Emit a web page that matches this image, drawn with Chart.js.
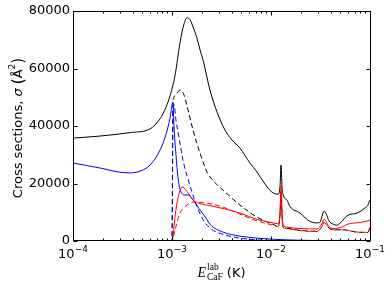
<!DOCTYPE html>
<html><head><meta charset="utf-8">
<script src="https://cdn.jsdelivr.net/npm/chart.js@4"></script>
<style>html,body{margin:0;padding:0;background:#fff}#wrap{width:391px;height:285px;position:relative}</style>
</head><body><div id="wrap"><canvas id="c" width="391" height="285"></canvas></div>
<script>
// ---- data (energies in K, cross sections in Å^2) ----
const blackSolidE = [1.0e-4,1.87e-4,3.77e-4,6.0e-4,7.57e-4,8.69e-4,9.55e-4,1.072e-3,1.205e-3,1.322e-3,1.418e-3,1.52e-3,1.63e-3,1.789e-3,1.918e-3,2.056e-3,2.42e-3,2.848e-3,3.43e-3,4.04e-3,4.86e-3,6.14e-3,7.22e-3,8.7e-3,1.023e-2,1.177e-2,1.233e-2,1.262e-2,1.292e-2,1.322e-2,1.452e-2,1.556e-2,1.963e-2,2.48e-2,2.92e-2,3.13e-2,3.27e-2,3.43e-2,3.6e-2,3.85e-2,4.23e-2,4.6e-2,4.98e-2,6.0e-2,7.39e-2,8.9e-2,9.55e-2,9.77e-2,0.1];
const blackSolidSigma = [35800,36500,37700,39000,42500,46500,50500,57500,69000,75500,77600,77000,74500,70500,66500,63000,52500,44900,38600,35100,32300,27100,24000,19800,17000,16300,19000,26400,19000,16200,14200,12000,9700,6800,6300,6600,8500,10400,9500,7000,5900,5500,6200,9000,9700,11500,12500,13500,14300];

const blackDashE = [1.0e-4,9.9e-4,1.0e-3,1.023e-3,1.072e-3,1.205e-3,1.322e-3,1.418e-3,1.52e-3,1.63e-3,1.918e-3,2.257e-3,2.716e-3,3.276e-3,4.86e-3,7.22e-3,1.047e-2,1.177e-2,1.233e-2,1.262e-2,1.292e-2,1.322e-2,1.452e-2,1.963e-2,2.92e-2,3.27e-2,3.43e-2,3.6e-2,3.85e-2,4.23e-2,5.33e-2,7.39e-2,9.55e-2,0.1];
const blackDashSigma = [0,0,0,48000,50500,52500,50800,47000,42800,38600,30600,24000,20300,17700,12500,8300,5800,5100,9000,17000,9000,4900,4400,3700,3400,5000,6500,5800,4500,3900,3900,3100,3000,4900];

const blueSolidE = [1.0e-4,1.87e-4,2.99e-4,3.77e-4,4.75e-4,6.0e-4,7.57e-4,8.69e-4,9.55e-4,1.023e-3,1.047e-3,1.097e-3,1.15e-3,1.205e-3,1.262e-3,1.353e-3,1.452e-3,1.592e-3,1.747e-3,1.918e-3,2.2e-3,2.42e-3,3.276e-3,4.86e-3,7.22e-3,1.556e-2,4.23e-2,0.1];
const blueSolidSigma = [27100,25400,23900,23700,24300,26400,31600,37000,42800,48300,40000,30000,22000,18000,16500,16000,16000,14800,12800,10800,8000,5800,3100,1700,1000,350,100,50];

const blueDashE = [1.0e-4,9.9e-4,1.0e-3,1.023e-3,1.047e-3,1.097e-3,1.15e-3,1.262e-3,1.292e-3,1.452e-3,1.592e-3,1.789e-3,2.056e-3,2.42e-3,3.276e-3,4.86e-3,7.22e-3,1.556e-2,0.1];
const blueDashSigma = [0,0,0,46000,47500,42000,38000,30000,28000,21500,17000,12000,7500,4500,2300,1000,400,150,20];

const redSolidE = [1.0e-4,9.9e-4,1.0e-3,1.023e-3,1.047e-3,1.097e-3,1.15e-3,1.205e-3,1.262e-3,1.322e-3,1.418e-3,1.52e-3,1.63e-3,1.918e-3,2.42e-3,3.276e-3,4.86e-3,7.22e-3,1.023e-2,1.177e-2,1.233e-2,1.262e-2,1.292e-2,1.322e-2,1.452e-2,1.963e-2,2.92e-2,3.27e-2,3.43e-2,3.6e-2,3.85e-2,4.23e-2,5.33e-2,6.0e-2,7.39e-2,9.55e-2,0.1];
const redSolidSigma = [0,0,0,1500,5000,11000,15000,17500,18800,18500,17200,15800,14300,13000,12300,11300,9700,7500,6400,6000,10000,19500,10000,5800,4800,4300,4200,6000,7600,6800,5000,4300,5000,5900,6300,7000,7300];

const redDashE = [1.0e-4,9.9e-4,1.0e-3,1.072e-3,1.205e-3,1.418e-3,1.63e-3,1.918e-3,2.42e-3,3.276e-3,4.86e-3,7.22e-3,1.047e-2,1.177e-2,1.233e-2,1.262e-2,1.292e-2,1.322e-2,1.452e-2,1.963e-2,2.92e-2,3.27e-2,3.43e-2,3.6e-2,3.85e-2,4.23e-2,5.33e-2,7.39e-2,9.55e-2,0.1];
const redDashSigma = [0,0,0,3800,9700,12500,13600,13400,13000,11800,9300,7000,5500,5000,9000,17000,9000,4800,4300,3600,3300,5000,6500,5800,4500,3900,3900,3100,3000,4900];

const yTickValues = [0,20000,40000,60000,80000];
const xTickValues = [1e-4,1e-3,1e-2,1e-1];
const xTickExponents = ['\u22124','\u22123','\u22122','\u22121'];
const yTitleParts = ['Cross sections, ', '\u03C3', '\u00C5', '2'];
const xTitleParts = ['E', 'lab', 'CaF', '(K)'];

function pts(E, S){ return E.map((e,i)=>({x:e, y:S[i]})); }

function ds(label, E, S, color, dash){
  return {label, data:pts(E,S), borderColor:color, backgroundColor:color,
    borderWidth:1, borderDash:dash||[], pointRadius:0, fill:false,
    cubicInterpolationMode:'monotone'};
}

const SANS = 'DejaVu Sans';
const decor = {
  id:'decor',
  afterDraw(chart){
    const ctx = chart.ctx, a = chart.chartArea, xs = chart.scales.x, ys = chart.scales.y;
    const L = Math.round(a.left)+0.5, R = Math.round(a.right)+0.5, T = Math.round(a.top)+0.5, B = Math.round(a.bottom)-0.5;
    ctx.save();
    ctx.strokeStyle = '#000'; ctx.lineWidth = 1;
    ctx.beginPath();
    ctx.moveTo(L,T); ctx.lineTo(R,T); ctx.lineTo(R,B); ctx.lineTo(L,B); ctx.closePath();
    // x ticks (log, inside, top & bottom)
    for (let d=-4; d<=-1; d++){
      for (let m=1; m<=9; m++){
        const v = m*Math.pow(10,d);
        if (v > 0.1000001) break;
        const px = Math.round(xs.getPixelForValue(v))+0.5;
        const len = (m===1)?4:2;
        ctx.moveTo(px,B); ctx.lineTo(px,B-len);
        ctx.moveTo(px,T); ctx.lineTo(px,T+len);
      }
    }
    yTickValues.forEach(v=>{
      const py = Math.round(ys.getPixelForValue(v))+0.5;
      ctx.moveTo(L,py); ctx.lineTo(L+4,py);
      ctx.moveTo(R,py); ctx.lineTo(R-4,py);
    });
    ctx.stroke();

    // x tick labels 10^n
    ctx.fillStyle = '#000'; ctx.textBaseline = 'alphabetic'; ctx.textAlign = 'left';
    xTickValues.forEach((v,i)=>{
      const px = xs.getPixelForValue(v);
      ctx.font = '13px "'+SANS+'"'; const w1 = ctx.measureText('10').width;
      ctx.font = '9px "'+SANS+'"'; const w2 = ctx.measureText(xTickExponents[i]).width;
      const x0 = px - (w1+w2)/2;
      ctx.font = '13px "'+SANS+'"'; ctx.fillText('10', x0, 258);
      ctx.font = '9px "'+SANS+'"'; ctx.fillText(xTickExponents[i], x0+w1, 252);
    });

    // x title: E_CaF^lab (K)
    {
      const fE = 'italic 14px "Liberation Serif"', fS = '9.5px "Liberation Serif"', fK = '13px "'+SANS+'"';
      ctx.font = fE; const wE = ctx.measureText(xTitleParts[0]).width;
      ctx.font = fS; const wSup = ctx.measureText(xTitleParts[1]).width, wSub = ctx.measureText(xTitleParts[2]).width;
      ctx.font = fK; const wK = ctx.measureText(xTitleParts[3]).width;
      const gap = 4;
      const total = wE + 1 + Math.max(wSup,wSub) + gap + wK;
      let x = (a.left+a.right)/2 - total/2;
      ctx.font = fE; ctx.fillText(xTitleParts[0], x, 277); x += wE + 1;
      ctx.font = fS; ctx.fillText(xTitleParts[1], x, 270); ctx.fillText(xTitleParts[2], x, 280);
      x += Math.max(wSup,wSub) + gap;
      ctx.font = fK; ctx.fillText(xTitleParts[3], x, 277);
    }

    // y title: Cross sections, σ (Å^2)
    {
      const f = '13px "'+SANS+'"', fi = 'italic 13px "'+SANS+'"', fp = '15px "'+SANS+'"', fs = '9px "'+SANS+'"';
      const pieces = [
        {t:yTitleParts[0], f:f, dy:0},
        {t:yTitleParts[1], f:fi, dy:0},
        {t:' ', f:f, dy:0},
        {t:'(', f:fp, dy:1},
        {t:yTitleParts[2], f:f, dy:0},
        {t:yTitleParts[3], f:fs, dy:-7},
        {t:')', f:fp, dy:1}
      ];
      let total = 0;
      pieces.forEach(p=>{ ctx.font = p.f; p.w = ctx.measureText(p.t).width; total += p.w; });
      ctx.translate(22, (a.top+a.bottom)/2 + 2);
      ctx.rotate(-Math.PI/2);
      let x = -total/2;
      pieces.forEach(p=>{ ctx.font = p.f; ctx.fillText(p.t, x, p.dy); x += p.w; });
    }
    ctx.restore();
  }
};

const DASH = [5,3];
new Chart(document.getElementById('c'), {
  type:'line',
  data:{ datasets:[
    ds('red dashed', redDashE, redDashSigma, '#ff0000', DASH),
    ds('red solid', redSolidE, redSolidSigma, '#ff0000'),
    ds('blue dashed', blueDashE, blueDashSigma, '#0000ff', DASH),
    ds('blue solid', blueSolidE, blueSolidSigma, '#0000ff'),
    ds('black dashed', blackDashE, blackDashSigma, '#000000', DASH),
    ds('black solid', blackSolidE, blackSolidSigma, '#000000')
  ]},
  options:{
    responsive:false, animation:false, devicePixelRatio:1,
    layout:{padding:{left:0, right:21, top:11, bottom:0}},
    plugins:{legend:{display:false}, tooltip:{enabled:false}},
    scales:{
      x:{ type:'logarithmic', min:1e-4, max:0.1,
        grid:{display:false}, border:{display:false},
        ticks:{display:false},
        afterFit(s){ s.height = 44; } },
      y:{ type:'linear', min:0, max:80000,
        grid:{display:false, drawTicks:false}, border:{display:false},
        ticks:{ stepSize:20000, padding:3, color:'#000', font:{family:SANS, size:13},
          callback:(v)=> yTickValues.includes(v) ? String(v) : '' },
        afterFit(s){ s.width = 73; } }
    }
  },
  plugins:[decor]
});
</script></body></html>
